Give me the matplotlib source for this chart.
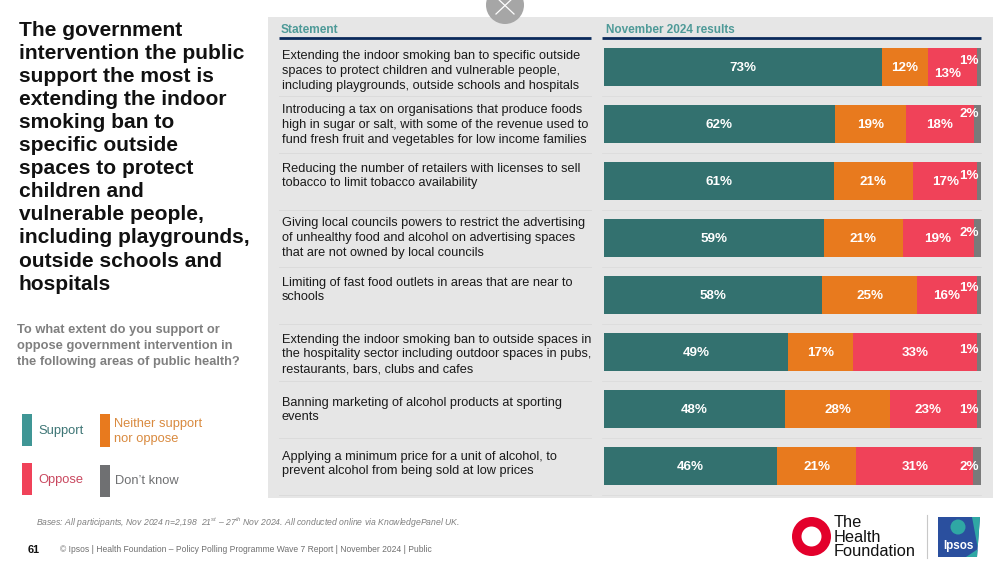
import matplotlib
matplotlib.use("Agg")
import matplotlib.pyplot as plt
from matplotlib.patches import Circle, Polygon, Rectangle, Wedge

plt.rcParams['font.family'] = ['Liberation Sans', 'DejaVu Sans']
plt.rcParams['mathtext.fontset'] = 'custom'
plt.rcParams['mathtext.it'] = 'Liberation Sans:italic'
plt.rcParams['mathtext.rm'] = 'Liberation Sans'

# Data
statements = [
    "Extending the indoor smoking ban to specific outside\nspaces to protect children and vulnerable people,\nincluding playgrounds, outside schools and hospitals",
    "Introducing a tax on organisations that produce foods\nhigh in sugar or salt, with some of the revenue used to\nfund fresh fruit and vegetables for low income families",
    "Reducing the number of retailers with licenses to sell\ntobacco to limit tobacco availability",
    "Giving local councils powers to restrict the advertising\nof unhealthy food and alcohol on advertising spaces\nthat are not owned by local councils",
    "Limiting of fast food outlets in areas that are near to\nschools",
    "Extending the indoor smoking ban to outside spaces in\nthe hospitality sector including outdoor spaces in pubs,\nrestaurants, bars, clubs and cafes",
    "Banning marketing of alcohol products at sporting\nevents",
    "Applying a minimum price for a unit of alcohol, to\nprevent alcohol from being sold at low prices",
]
support = [73, 62, 61, 59, 58, 49, 48, 46]
neither = [12, 19, 21, 21, 25, 17, 28, 21]
oppose = [13, 18, 17, 19, 16, 33, 23, 31]
dont_know = [1, 2, 1, 2, 1, 1, 1, 2]

series = [support, neither, oppose, dont_know]
series_colors = ['#33716f', '#e87a1e', '#f04259', '#7a7a7a']

title = ("The government\nintervention the public\nsupport the most is\nextending the indoor\n"
         "smoking ban to\nspecific outside\nspaces to protect\nchildren and\nvulnerable people,\n"
         "including playgrounds,\noutside schools and\nhospitals")
question = "To what extent do you support or\noppose government intervention in\nthe following areas of public health?"

fig = plt.figure(figsize=(10, 5.63), dpi=100, facecolor='white')

# overlay in pixel units for the slide furniture
bg = fig.add_axes([0, 0, 1, 1])
bg.set_xlim(0, 1000)
bg.set_ylim(563, 0)
bg.axis('off')

bg.add_patch(Rectangle((268, 17), 725, 481, color='#e6e6e6', lw=0))
bg.add_patch(Circle((505, 5), 19, color='#a6a6a6', lw=0, zorder=3))
bg.plot([496, 514], [-3, 14], color='white', lw=0.9, zorder=4)
bg.plot([514, 496], [-3, 14], color='white', lw=0.9, zorder=4)

bg.text(19, 21, title, fontsize=15.1, fontweight='bold', color='#111111', va='top', linespacing=1.27)
bg.text(17, 324, question, fontsize=9.3, fontweight='bold', color='#7f7f7f', va='top', linespacing=1.42)

# headers
bg.text(281, 30, "Statement", fontsize=8.6, fontweight='bold', color='#4e9a98', va='center')
bg.text(606, 30, "November 2024 results", fontsize=8.5, fontweight='bold', color='#4e9a98', va='center')
bg.plot([279, 591], [38, 38], color='#0b2a5b', lw=2, solid_capstyle='butt')
bg.plot([602, 981], [38, 38], color='#0b2a5b', lw=2, solid_capstyle='butt')

# statement column, text centres differ row to row on the slide
row_h = 57
text_y = [71, 125, 176, 238, 290, 354.5, 410, 464]
for i, s in enumerate(statements):
    yc = 67 + i * row_h
    bg.text(281.5, text_y[i], s, fontsize=9.15, color='#1a1a1a', va='center', linespacing=1.31)
    bg.plot([279, 591], [yc + 28.5, yc + 28.5], color='#d9d9d9', lw=0.6)
    bg.plot([602, 981], [yc + 28.5, yc + 28.5], color='#dcdcdc', lw=0.6)

# legend
for x, y, c, h in [(22, 414, '#3f9695', 32), (100, 414, '#e87a1e', 33), (22, 463, '#f04259', 32), (100, 465, '#6f7072', 32)]:
    bg.add_patch(Rectangle((x, y), 10, h, color=c, lw=0))
bg.text(38, 431, "Support", fontsize=9.3, color='#3d7575', va='center')
bg.text(114.5, 431.5, "Neither support\nnor oppose", fontsize=9.3, color='#d98a3f', va='center', linespacing=1.36)
bg.text(38, 480, "Oppose", fontsize=9.3, color='#c9485f', va='center')
bg.text(115, 481.5, "Don\u2019t know", fontsize=9.3, color='#6f7072', va='center')

# footer
bg.text(36, 522.5, "Bases: All participants, Nov 2024 n=2,198  21$^{st}$ \u2013 27$^{th}$ Nov 2024. All conducted online via KnowledgePanel UK.",
        fontsize=6.2, style='italic', color='#7f7f7f', va='center')
bg.text(28, 550, "61", fontsize=7.8, fontweight='bold', color='#111111', va='center')
bg.text(60, 550, "\u00a9 Ipsos | Health Foundation \u2013 Policy Polling Programme Wave 7 Report | November 2024 | Public",
        fontsize=6.15, color='#6f6f6f', va='center')

# logos
bg.add_patch(Wedge((811.5, 536.5), 19.5, 0, 360, width=9.5, color='#e3002b', lw=0))
bg.text(834, 537, "The\nHealth\nFoundation", fontsize=11.8, color='#111111', va='center', linespacing=0.98)
bg.plot([926.5, 926.5], [515, 558], color='#c8c8c8', lw=0.8)
bg.add_patch(Polygon([(938, 517), (980, 517), (977, 557), (938, 557)], color='#2a4f9e', lw=0))
bg.add_patch(Polygon([(972, 517), (980, 517), (977, 557), (966, 557), (978, 549)], color='#2fa7a4', lw=0))
bg.add_patch(Circle((958, 527), 7.5, color='#2fa7a4', lw=0))
bg.text(958.5, 545.5, "Ipsos", fontsize=8.4, fontweight='bold', color='white', ha='center', va='center')

# stacked bars, rescaled to fill the track because rounded values do not sum to 100
ax = fig.add_axes([603.5 / 1000, 1 - 494.5 / 563, 377.5 / 1000, 456 / 563])
ax.patch.set_alpha(0)
ax.axis('off')
ax.set_xlim(0, 100)
ax.set_ylim(7.5, -0.5)

ypos = list(range(len(support)))
totals = [sum(v) for v in zip(*series)]
left = [0] * len(ypos)
for vals, col in zip(series, series_colors):
    shares = [v / t * 100 for v, t in zip(vals, totals)]
    ax.barh(ypos, shares, left=left, height=38 / row_h, color=col, lw=0)
    # the small last segment gets its label placed separately below
    if vals is not dont_know:
        for y, l, w, v in zip(ypos, left, shares, vals):
            dy = 0.025
            dx = 0
            if vals is oppose and y == 0:
                dy, dx = 0.13, -1.2
            if vals is oppose and y == 6:
                dx = -1.5
            ax.text(l + w / 2 + dx, y + dy, f"{v}%", color='white', fontsize=9.6, fontweight='bold', ha='center', va='center')
    left = [a + b for a, b in zip(left, shares)]

# "don't know" label offsets, in row units
dk_offset = [-0.1, -0.17, -0.08, -0.08, -0.12, -0.03, 0.025, 0.025]
for y, v, off in zip(ypos, dont_know, dk_offset):
    ax.text(99.5, y + off, f"{v}%", color='white', fontsize=9.6, fontweight='bold', ha='right', va='center')

fig.savefig('out.png', dpi=100)
